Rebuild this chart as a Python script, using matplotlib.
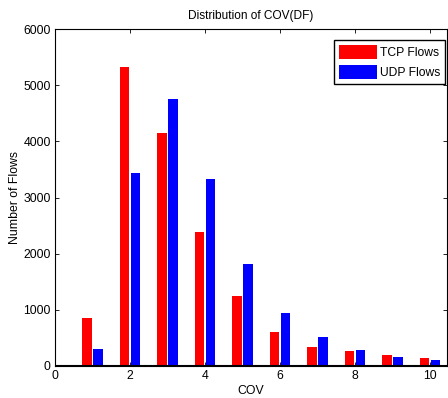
import numpy as np
import matplotlib
matplotlib.use("Agg")
import matplotlib.pyplot as plt

plt.rcParams['font.family'] = ['Liberation Sans', 'DejaVu Sans']

cov = np.arange(1, 11)
tcp_flows = [849, 5330, 4143, 2380, 1240, 599, 344, 261, 202, 136]
udp_flows = [297, 3436, 4753, 3324, 1810, 944, 522, 279, 160, 101]

fig = plt.figure(figsize=(4.48, 3.98), dpi=100)
ax = fig.add_axes([55/448, 32/398, 392/448, 337/398])

w = 0.25
ax.bar(cov - 0.145, tcp_flows, width=w, color='#ff0000', label='TCP Flows')
ax.bar(cov + 0.145, udp_flows, width=w, color='#0000ff', label='UDP Flows')
ax.axhline(0, color='black', lw=1.5, zorder=5)

ax.set_xlim(0, 10.45)
ax.set_ylim(0, 6000)
ax.set_xticks([0, 2, 4, 6, 8, 10])
ax.set_yticks(np.arange(0, 6001, 1000))
ax.tick_params(direction='in', top=True, right=True, labelsize=8.8, length=3, width=0.6, pad=3)
for s in ax.spines.values():
    s.set_linewidth(0.8)

ax.set_title('Distribution of COV(DF)', fontsize=8.6, pad=7)
ax.set_xlabel('COV', fontsize=8.8, labelpad=2)
ax.set_ylabel('Number of Flows', fontsize=8.8, labelpad=2)

leg = ax.legend(loc='upper right', bbox_to_anchor=(445/448, 1 - 40/398),
                bbox_transform=fig.transFigure, borderaxespad=0,
                fontsize=8.7, fancybox=False, framealpha=1,
                edgecolor='black', handlelength=3.1, handleheight=1.45,
                borderpad=0.4, labelspacing=0.45, handletextpad=0.25)
leg.get_frame().set_linewidth(1.0)

fig.savefig('out.png', dpi=100)
